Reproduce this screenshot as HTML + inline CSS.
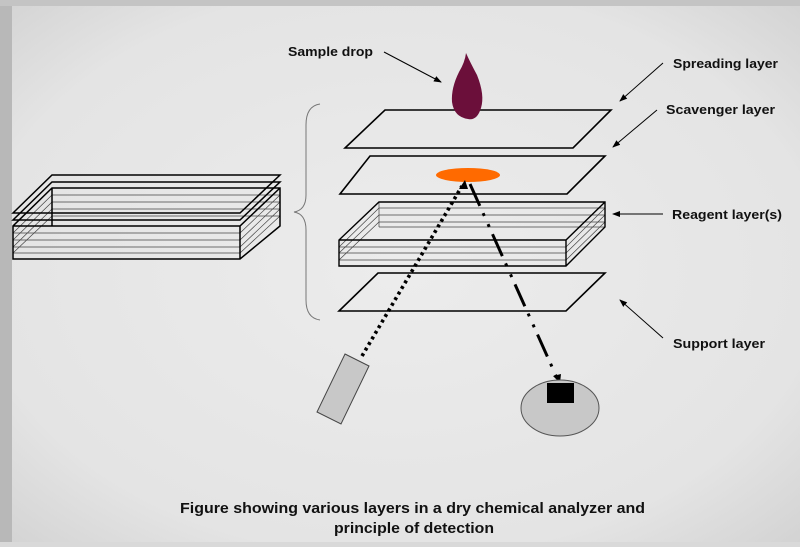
<!DOCTYPE html>
<html><head><style>
html,body{margin:0;padding:0;}
body{width:800px;height:542px;overflow:hidden;background:#d9d9d9;}
</style></head><body>
<svg width="800" height="542" viewBox="0 0 800 542" xmlns="http://www.w3.org/2000/svg" font-family="Liberation Sans, sans-serif">
<defs>
<radialGradient id="bg" cx="50%" cy="50%" r="75%">
<stop offset="0" stop-color="#ececec"/><stop offset="0.7" stop-color="#e4e4e4"/><stop offset="1" stop-color="#cfcfcf"/>
</radialGradient>
<marker id="ah" markerWidth="8" markerHeight="8" refX="7" refY="4" orient="auto" markerUnits="userSpaceOnUse">
<path d="M0,1 L8,4 L0,7 z" fill="#000"/></marker>
</defs>
<rect width="800" height="542" fill="url(#bg)"/>
<rect x="0" y="0" width="12" height="542" fill="#b8b8b8"/>
<rect x="0" y="0" width="800" height="6" fill="#c4c4c4"/>

<g fill="none" stroke="#000">
<g stroke-width="0.7" stroke="#444">
<path d="M52,188 L13,226 M52,195 L13,233 M52,202 L13,240 M52,209 L13,247 M52,216 L13,253"/>
<path d="M280,188 L240,226 M280,195 L240,233 M280,202 L240,240 M280,209 L240,247 M280,216 L240,253"/>
<path d="M52,195 H280 M52,202 H280 M52,209 H280 M52,216 H280 M13,233 H240 M13,240 H240 M13,247 H240 M13,253 H240"/>
</g>
<g stroke-width="1.5">
<path d="M52,175 H280 L240,213 H13 Z"/>
<path d="M52,182 H280 L240,220 H13 Z"/>
<path d="M52,188 H280 V226 L240,259 H13 V226 Z M13,226 H240 L280,188 M240,226 V259 M52,188 V226"/>
</g>
<path d="M320,104 Q306,106 306,125 V195 Q306,210 294,212 Q306,214 306,230 V300 Q306,318 320,320" stroke="#777" stroke-width="1"/>

<g stroke-width="1.6">
<path d="M385,110 H611 L573,148 H345 Z"/>
<path d="M370,156 H605 L567,194 H340 Z"/>
<path d="M378,273 H605 L566,311 H339 Z"/>
</g>
<g stroke-width="0.7" stroke="#444">
<path d="M379,208 H605 M379,215 H605 M379,222 H605 M379,227 H605 M379,202 V227"/>
<path d="M339,247 H566 M339,253 H566 M339,260 H566"/>
<path d="M379,208 L339,247 M379,215 L339,253 M379,222 L339,260 M605,208 L566,247 M605,215 L566,253 M605,222 L566,260"/>
</g>
<path d="M379,202 H605 V227 L566,266 H339 V240 Z M339,240 H566 L605,202 M566,240 V266" stroke-width="1.4"/>

<g stroke-width="1" marker-end="url(#ah)">
<line x1="384" y1="52" x2="441" y2="82"/>
<line x1="663" y1="63" x2="620" y2="101"/>
<line x1="657" y1="110" x2="613" y2="147"/>
<line x1="663" y1="214" x2="613" y2="214"/>
<line x1="663" y1="338" x2="620" y2="300"/>
</g>
</g>

<path d="M466,53 Q470,62 477,75 Q485,95 481,108 Q477,121 468,119 Q454,117 452,102 Q451,88 459,72 Q465,62 466,53 Z" fill="#6b0f3a"/>
<ellipse cx="468" cy="175" rx="32" ry="7" fill="#ff6a00"/>

<line x1="362" y1="356" x2="462" y2="186" stroke="#000" stroke-width="3.6" stroke-dasharray="3 3.5"/>
<path d="M459,189 L465,180 L468,189 z" fill="#000"/>
<line x1="470" y1="184" x2="557" y2="378" stroke="#000" stroke-width="3" stroke-dasharray="24 8 3 9 3 8"/>
<path d="M553,376 L561,374 L560,383 z" fill="#000"/>

<path d="M345,354 L369,366 L341,424 L317,412 Z" fill="#c8c8c8" stroke="#444" stroke-width="1"/>
<ellipse cx="560" cy="408" rx="39" ry="28" fill="#c8c8c8" stroke="#555" stroke-width="1"/>
<rect x="547" y="383" width="27" height="20" fill="#000"/>

<g font-weight="bold" font-size="13" fill="#111" lengthAdjust="spacingAndGlyphs">
<text x="288" y="56" textLength="85" lengthAdjust="spacingAndGlyphs">Sample drop</text>
<text x="673" y="68" textLength="105" lengthAdjust="spacingAndGlyphs">Spreading layer</text>
<text x="666" y="114" textLength="109" lengthAdjust="spacingAndGlyphs">Scavenger layer</text>
<text x="672" y="219" textLength="110" lengthAdjust="spacingAndGlyphs">Reagent layer(s)</text>
<text x="673" y="348" textLength="92" lengthAdjust="spacingAndGlyphs">Support layer</text>
<text x="180" y="513" font-size="15" textLength="465" lengthAdjust="spacingAndGlyphs">Figure showing various layers in a dry chemical analyzer and</text>
<text x="334" y="533" font-size="15" textLength="160" lengthAdjust="spacingAndGlyphs">principle  of detection</text>
</g>
</svg>
</body></html>
